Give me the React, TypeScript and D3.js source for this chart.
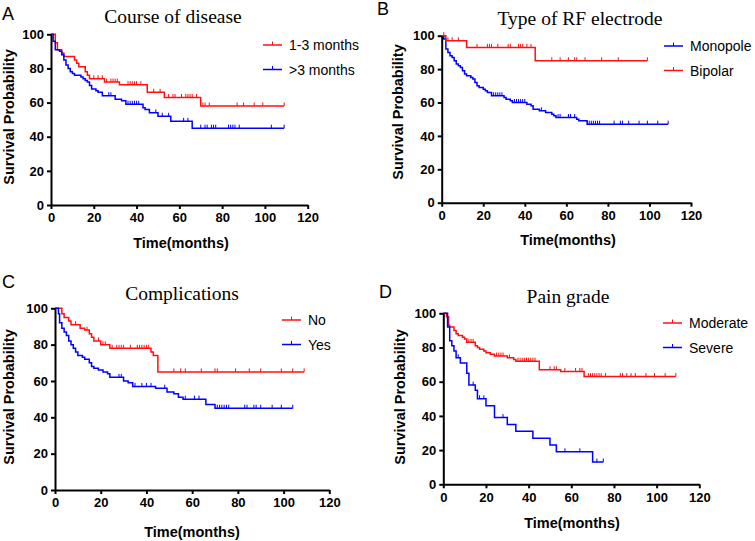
import { useEffect, useRef } from "react";
import * as d3 from "d3";

// Kaplan-Meier steps: time of each drop, survival after the drop, censor times
const aRedT = [2, 3, 5, 6, 11, 12, 13, 16, 17, 18, 25, 32, 45, 53, 70];
const aRedS = [95, 91, 89, 87, 85, 83, 81, 78, 76, 74, 72, 70.5, 66, 63, 58];
const aRedC = [20, 22, 24, 26, 28, 29, 30, 31, 36, 37, 38, 39, 40, 42, 48, 51, 55, 57, 58, 61, 63, 64, 65, 66, 68, 71, 72, 74, 87, 90, 95, 99, 109];
const aBlueT = [1, 2, 4, 5, 6, 7, 8, 9, 10, 11, 14, 15, 16, 17, 18, 19, 21, 22, 24, 30, 33, 35, 43, 44, 46, 50, 56, 66];
const aBlueS = [96, 91, 90, 88, 85, 82, 80, 78, 77, 76, 75, 74, 73, 72, 70, 68, 67, 66, 64, 62, 61, 59, 57, 56, 54, 52, 49, 45];
const aBlueC = [27, 28, 36, 37, 38, 39, 40, 41, 49, 52, 55, 62, 64, 70, 72, 73, 75, 76, 77, 83, 84, 85, 86, 88, 103, 109];

const bRedT = [2, 12, 45];
const bRedS = [97, 93, 85];
const bRedC = [1, 3, 5, 8, 17, 22, 23, 24, 27, 32, 33, 37, 38, 39, 41, 43, 53, 57, 61, 64, 65, 69, 77, 85, 99];
const bBlueT = [1, 2, 3, 4, 5, 6, 7, 8, 9, 10, 11, 12, 14, 15, 16, 17, 18, 20, 21, 22, 24, 30, 31, 33, 34, 41, 43, 44, 47, 50, 53, 54, 55, 65, 66, 70];
const bBlueS = [98, 92, 90, 88, 87, 85, 83, 82, 81, 79, 77, 76, 75, 74, 72, 70, 69, 68, 67, 66, 64, 63, 62, 61, 60, 59, 58, 56, 55, 54, 53, 52, 51, 50, 49, 47];
const bBlueC = [25, 26, 27, 28, 29, 35, 36, 37, 38, 39, 40, 48, 56, 57, 61, 62, 64, 71, 72, 73, 74, 75, 76, 83, 86, 87, 90, 95, 99, 104, 109];

const cRedT = [3, 4, 6, 7, 11, 13, 15, 16, 17, 20, 24, 42, 43, 45];
const cRedS = [97, 95, 93, 91, 89, 88, 86, 84, 82, 80, 78, 76, 74, 65];
const cRedC = [9, 14, 19, 21, 22, 25, 27, 28, 29, 30, 33, 36, 37, 38, 39, 40, 41, 52, 55, 57, 64, 70, 71, 79, 85, 90, 99, 104, 109];
const cBlueT = [1.5, 2, 3, 4, 5, 6, 7, 8, 9, 10, 12, 13, 15, 16, 17, 19, 21, 23, 24, 30, 32, 34, 44, 49, 52, 54, 56, 66, 70];
const cBlueS = [97, 92, 89, 87, 85, 82, 80, 78, 76, 74, 73, 72, 70, 68, 67, 66, 65, 64, 62, 60, 59, 57, 56, 54, 53, 51, 50, 47, 45];
const cBlueC = [28, 29, 35, 38, 40, 42, 48, 57, 61, 63, 71, 72, 73, 74, 75, 76, 83, 84, 87, 88, 90, 95, 99, 104];

const dRedT = [1.5, 2.5, 3, 5, 6, 7, 9, 10, 11, 15, 16, 17, 19, 20, 22, 24, 30, 33, 34, 45, 55, 66];
const dRedS = [98, 93, 92, 90, 88, 87, 86, 85, 83, 81, 80, 79, 78, 77, 76, 75, 74, 73, 72, 67, 66, 63];
const dRedC = [12, 13, 14, 25, 26, 27, 28, 31, 35, 36, 37, 38, 39, 40, 41, 42, 43, 50, 52, 53, 57, 62, 64, 65, 68, 69, 70, 71, 72, 73, 74, 76, 83, 84, 86, 88, 90, 95, 99, 104, 109];
const dBlueT = [2, 3, 4, 5, 6, 8, 11, 12, 15, 16, 20, 24, 30, 34, 42, 50, 53, 70];
const dBlueS = [92, 84, 81, 78, 74, 71, 65, 58, 55, 50, 46, 39, 35, 31, 27, 23, 19, 13];
const dBlueC = [7, 14, 17, 19, 28, 57, 64, 72, 75];

const xTicks = [0, 20, 40, 60, 80, 100, 120];
const yTicks = [0, 20, 40, 60, 80, 100];

const RED = "#ff1010";
const BLUE = "#0000ff";
const SANS = "'Liberation Sans', Arial, sans-serif";

interface Series { name: string; color: string; t: number[]; s: number[]; c: number[] }
interface Panel {
    letter: string; title: string;
    left: number; right: number; top: number; bottom: number;
    letterX: number; letterY: number; titleX: number; titleY: number;
    yLabX: number; yLabY: number; xLabX: number; xLabY: number;
    legX: number; legY: number;
    series: Series[];
}

const panels: Panel[] = [
    {
        letter: "A", title: "Course of disease",
        left: 51, right: 307.7, top: 34.3, bottom: 205,
        letterX: 2, letterY: 20, titleX: 173, titleY: 23,
        yLabX: 9, yLabY: 117, xLabX: 181, xLabY: 248,
        legX: 263, legY: 45,
        series: [
            { name: "1-3 months", color: RED, t: aRedT, s: aRedS, c: aRedC },
            { name: ">3 months", color: BLUE, t: aBlueT, s: aBlueS, c: aBlueC },
        ],
    },
    {
        letter: "B", title: "Type of RF electrode",
        left: 441.7, right: 691, top: 35.7, bottom: 202.7,
        letterX: 377, letterY: 15, titleX: 580, titleY: 25,
        yLabX: 398, yLabY: 112, xLabX: 568, xLabY: 245,
        legX: 664, legY: 46,
        series: [
            { name: "Monopole", color: BLUE, t: bBlueT, s: bBlueS, c: bBlueC },
            { name: "Bipolar", color: RED, t: bRedT, s: bRedS, c: bRedC },
        ],
    },
    {
        letter: "C", title: "Complications",
        left: 55, right: 329.3, top: 308.3, bottom: 490,
        letterX: 2, letterY: 288, titleX: 182, titleY: 300,
        yLabX: 9, yLabY: 397, xLabX: 192, xLabY: 537,
        legX: 282, legY: 320,
        series: [
            { name: "No", color: RED, t: cRedT, s: cRedS, c: cRedC },
            { name: "Yes", color: BLUE, t: cBlueT, s: cBlueS, c: cBlueC },
        ],
    },
    {
        letter: "D", title: "Pain grade",
        left: 443.3, right: 699.3, top: 313.3, bottom: 484.3,
        letterX: 379, letterY: 298, titleX: 568, titleY: 303,
        yLabX: 400, yLabY: 397, xLabX: 572, xLabY: 528,
        legX: 663, legY: 323,
        series: [
            { name: "Moderate", color: RED, t: dRedT, s: dRedS, c: dRedC },
            { name: "Severe", color: BLUE, t: dBlueT, s: dBlueS, c: dBlueC },
        ],
    },
];

const survAt = (sr: Series, time: number) => {
    let v = 100;
    sr.t.forEach((t, i) => { if (t <= time) v = sr.s[i]; });
    return v;
};

export default function App() {
    const svgRef = useRef<SVGSVGElement>(null);

    useEffect(() => {
        if (!svgRef.current) return;
        const svg = d3.select(svgRef.current);
        svg.selectAll("*").remove();

        panels.forEach((p) => {
            const x = d3.scaleLinear().domain([0, 120]).range([p.left, p.right]);
            const y = d3.scaleLinear().domain([0, 100]).range([p.bottom, p.top]);
            const g = svg.append("g");

            // curves
            p.series.forEach((sr) => {
                const end = Math.max(d3.max(sr.c) || 0, d3.max(sr.t) || 0);
                const pts: [number, number][] = [[0, 100]];
                sr.t.forEach((t, i) => pts.push([t, sr.s[i]]));
                pts.push([end, sr.s[sr.s.length - 1]]);
                const line = d3.line<[number, number]>()
                    .x((d) => x(d[0]))
                    .y((d) => y(d[1]))
                    .curve(d3.curveStepAfter);
                g.append("path")
                    .attr("d", line(pts))
                    .attr("fill", "none")
                    .attr("stroke", sr.color)
                    .attr("stroke-width", 1.5);
                g.append("g")
                    .selectAll("line")
                    .data(sr.c)
                    .join("line")
                    .attr("x1", (d) => x(d))
                    .attr("x2", (d) => x(d))
                    .attr("y1", (d) => y(survAt(sr, d)))
                    .attr("y2", (d) => y(survAt(sr, d)) - 3.5)
                    .attr("stroke", sr.color)
                    .attr("stroke-width", 1);
            });

            // axes
            const ax = g.append("g")
                .attr("transform", `translate(0,${p.bottom})`)
                .call(d3.axisBottom(x).tickValues(xTicks).tickSize(4).tickPadding(4).tickSizeOuter(0));
            const ay = g.append("g")
                .attr("transform", `translate(${p.left},0)`)
                .call(d3.axisLeft(y).tickValues(yTicks).tickSize(4).tickPadding(3).tickSizeOuter(0));
            [ax, ay].forEach((a) => {
                a.select(".domain").attr("stroke", "#000").attr("stroke-width", 2);
                a.selectAll(".tick line").attr("stroke", "#000").attr("stroke-width", 2);
                a.selectAll(".tick text")
                    .attr("fill", "#000")
                    .style("font-family", SANS)
                    .style("font-weight", "bold")
                    .style("font-size", "13px");
            });

            // texts
            g.append("text")
                .attr("x", p.letterX).attr("y", p.letterY)
                .style("font-family", SANS)
                .style("font-size", "18px")
                .text(p.letter);
            g.append("text")
                .attr("x", p.titleX).attr("y", p.titleY)
                .attr("text-anchor", "middle")
                .style("font-family", "'Liberation Serif', 'Times New Roman', serif")
                .style("font-size", "19.5px")
                .text(p.title);
            g.append("text")
                .attr("transform", `translate(${p.yLabX},${p.yLabY}) rotate(-90)`)
                .attr("text-anchor", "middle")
                .attr("dominant-baseline", "central")
                .style("font-family", SANS)
                .style("font-weight", "bold")
                .style("font-size", "14.5px")
                .text("Survival Probability");
            g.append("text")
                .attr("x", p.xLabX).attr("y", p.xLabY)
                .attr("text-anchor", "middle")
                .style("font-family", SANS)
                .style("font-weight", "bold")
                .style("font-size", "14.5px")
                .text("Time(months)");

            // legend
            p.series.forEach((sr, i) => {
                const ly = p.legY + i * 24.5;
                g.append("line")
                    .attr("x1", p.legX).attr("x2", p.legX + 19)
                    .attr("y1", ly).attr("y2", ly)
                    .attr("stroke", sr.color).attr("stroke-width", 1.5);
                g.append("line")
                    .attr("x1", p.legX + 9.5).attr("x2", p.legX + 9.5)
                    .attr("y1", ly).attr("y2", ly - 3.5)
                    .attr("stroke", sr.color).attr("stroke-width", 1);
                g.append("text")
                    .attr("x", p.legX + 26).attr("y", ly)
                    .attr("dominant-baseline", "central")
                    .style("font-family", SANS)
                    .style("font-size", "14px")
                    .text(sr.name);
            });
        });
    }, []);

    return (
        <div style={{ position: "absolute", left: 0, top: 0 }}>
            <svg ref={svgRef} width={755} height={541} style={{ display: "block", background: "#fff" }} />
        </div>
    );
}
